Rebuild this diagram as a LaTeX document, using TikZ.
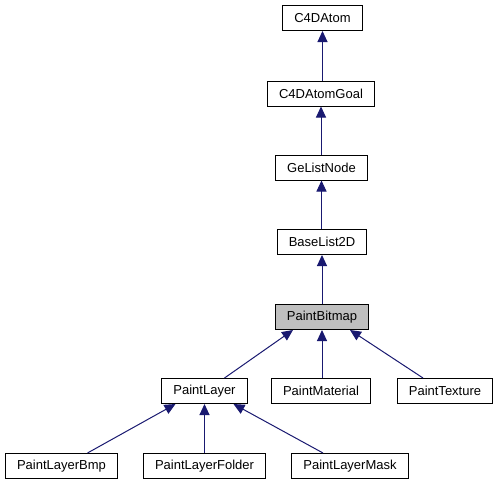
\documentclass[tikz,border=0pt]{standalone}
\usepackage{fontspec}
\setmainfont{Liberation Sans}
\usetikzlibrary{arrows.meta}
\definecolor{midnightblue}{RGB}{25,25,112}

\begin{document}
\begin{tikzpicture}[x=1pt, y=-1pt,
    cls/.style={draw=black, line width=1pt, fill=white, minimum height=25pt,
      inner xsep=11.5pt, inner ysep=0pt, font=\fontsize{13}{15}\selectfont},
    inherit/.style={midnightblue, line width=1pt, -{Triangle[length=11pt, width=10pt]}}]
  \useasboundingbox (0,0) rectangle (499,485);
  \node[cls] (C4DAtom) at (322.5,18) {C4DAtom};
  \node[cls] (C4DAtomGoal) at (321,93.5) {C4DAtomGoal};
  \node[cls] (GeListNode) at (321.5,167.5) {GeListNode};
  \node[cls] (BaseList2D) at (322,242) {BaseList2D};
  \node[cls, fill=black!25] (PaintBitmap) at (322,317) {PaintBitmap};
  \node[cls] (PaintLayer) at (204.5,391) {PaintLayer};
  \node[cls] (PaintMaterial) at (321,391) {PaintMaterial};
  \node[cls] (PaintTexture) at (445,391) {PaintTexture};
  \node[cls] (PaintLayerBmp) at (61.5,466) {PaintLayerBmp};
  \node[cls] (PaintLayerFolder) at (204.5,466) {PaintLayerFolder};
  \node[cls] (PaintLayerMask) at (350,466) {PaintLayerMask};
  \draw[inherit] (C4DAtomGoal.north -| C4DAtom) -- (C4DAtom.south);
  \draw[inherit] (GeListNode.north -| C4DAtomGoal) -- (C4DAtomGoal.south);
  \draw[inherit] (BaseList2D.north -| GeListNode) -- (GeListNode.south);
  \draw[inherit] (PaintBitmap.north -| BaseList2D) -- (BaseList2D.south);
  \draw[inherit] ([xshift=20pt]PaintLayer.north) -- ([xshift=-29pt]PaintBitmap.south);
  \draw[inherit] (PaintMaterial.north -| PaintBitmap) -- (PaintBitmap.south);
  \draw[inherit] ([xshift=-22pt]PaintTexture.north) -- ([xshift=28pt]PaintBitmap.south);
  \draw[inherit] ([xshift=26pt]PaintLayerBmp.north) -- ([xshift=-29pt]PaintLayer.south);
  \draw[inherit] (PaintLayerFolder.north) -- (PaintLayer.south);
  \draw[inherit] ([xshift=-27pt]PaintLayerMask.north) -- ([xshift=29pt]PaintLayer.south);
\end{tikzpicture}
\end{document}
